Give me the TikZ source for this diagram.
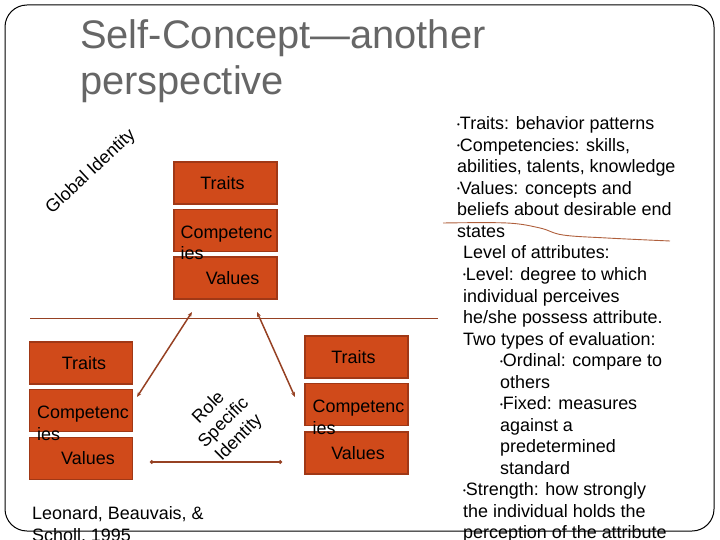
\documentclass[tikz,border=0pt]{standalone}
\usepackage{fontspec}
\setmainfont{Liberation Sans}
\usetikzlibrary{arrows.meta,positioning,calc}

\definecolor{boxfill}{RGB}{208,74,26}
\definecolor{boxline}{RGB}{160,56,22}
\definecolor{linkbrown}{RGB}{150,65,35}
\definecolor{scribble}{RGB}{175,95,60}
\definecolor{titlegray}{RGB}{102,102,102}
\newcommand{\bul}{\raisebox{2.5bp}{\fontsize{8}{8}\selectfont\textbullet}}

\begin{document}
\begin{tikzpicture}[x=1bp, y=-1bp,
  attr/.style={draw=boxline, fill=boxfill, line width=1.2bp, minimum width=103bp,
    minimum height=42bp, inner sep=0pt, font=\fontsize{18}{21.5}\selectfont},
  ctxt/.style={anchor=base west, align=left, inner sep=0pt, font=\fontsize{18}{21.5}\selectfont},
  rotlbl/.style={font=\fontsize{18}{21.5}\selectfont, align=center, inner sep=0pt},
  body/.style={anchor=base west, inner sep=0pt, font=\fontsize{18}{21.5}\selectfont},
  ttl/.style={anchor=base west, inner sep=0pt, text=titlegray, font=\fontsize{40}{45}\selectfont},
  link/.style={{Stealth[length=5bp,width=4bp]}-{Stealth[length=5bp,width=4bp]}, draw=linkbrown, line width=1.5bp},
  hlink/.style={{Circle[length=3.5bp]}-{Circle[length=3.5bp]}, draw=linkbrown, line width=1.5bp},
  divline/.style={draw=linkbrown, line width=0.9bp},
]
\useasboundingbox (0,0) rectangle (720,540);

%==================== JUDUL ====================
\node[ttl] (ttl1) at (80,49) {Self-Concept—another};
\node[ttl] (ttl2) at (80,95) {perspective};

%==================== ATAS: global identity ====================
\node[attr] (gT) at (225.5,183)   {\hspace*{-6bp}Traits};
\node[attr] (gC) at (225.5,230.5) {};
\node[attr] (gV) at (225.5,278)   {\hspace*{14bp}Values};
\node[ctxt] (gCt) at ($(gC.west)+(7,29.5)$) {Competenc\\ies};
\node[rotlbl, rotate=43] (glob) at (91,172) {Global Identity};

% garis pemisah
\draw[divline] (30,318) -- (438,318);

%==================== KIRI BAWAH ====================
\node[attr] (lT) at (81,363)   {\hspace*{6bp}Traits};
\node[attr] (lC) at (81,410.5) {};
\node[attr] (lV) at (81,458.5) {\hspace*{14bp}Values};
\node[ctxt] (lCt) at ($(lC.west)+(8,29.5)$) {Competenc\\ies};

%==================== KANAN BAWAH ====================
\node[attr] (rT) at (356.5,357)   {\hspace*{-6bp}Traits};
\node[attr] (rC) at (356.5,404.5) {};
\node[attr] (rV) at (356.5,453)   {\hspace*{3bp}Values};
\node[ctxt] (rCt) at ($(rC.west)+(8,29.5)$) {Competenc\\ies};

\node[rotlbl, rotate=45] (role) at (224,423) {Role\\Specific\\Identity};

%==================== PANAH ====================
\coordinate (aL1) at (192,312);
\coordinate (aL2) at (137,397);
\coordinate (aR1) at (257,312);
\coordinate (aR2) at (295,397);
\coordinate (hL) at (150,462);
\coordinate (hR) at (282,462);
\draw[link] (aL1) -- (aL2);
\draw[link] (aR1) -- (aR2);
\draw[hlink] (hL) -- (hR);

%==================== TEKS KANAN ====================
\foreach \dx/\txt [count=\i from 0] in {
  0/{\bul Traits: behavior patterns},
  0/{\bul Competencies: skills,},
  0/{abilities, talents, knowledge},
  0/{\bul Values: concepts and},
  0/{beliefs about desirable end},
  0/{states},
  6/{Level of attributes:},
  6/{\bul Level: degree to which},
  6/{individual perceives},
  6/{he/she possess attribute.},
  6/{Two types of evaluation:},
  43/{\bul Ordinal: compare to},
  43/{others},
  43/{\bul Fixed: measures},
  43/{against a},
  43/{predetermined},
  43/{standard},
  6/{\bul Strength: how strongly},
  6/{the individual holds the},
  6/{perception of the attribute}}
  \node[body] (b\i) at (457+\dx,130+21.5*\i) {\txt};

% coretan tangan
\draw[scribble, line width=0.9bp] plot[smooth, tension=0.6] coordinates
  {(443,223) (507,223) (540,228) (563,235) (607,238) (670,241)};

%==================== SUMBER ====================
\node[body] (cite1) at (32,519.5) {Leonard, Beauvais, \&};
\node[body] (cite2) at (32,541) {Scholl, 1995};

%==================== BINGKAI ====================
\draw[line width=1bp, rounded corners=22bp] (5,5) rectangle (714,531);

\end{tikzpicture}
\end{document}
